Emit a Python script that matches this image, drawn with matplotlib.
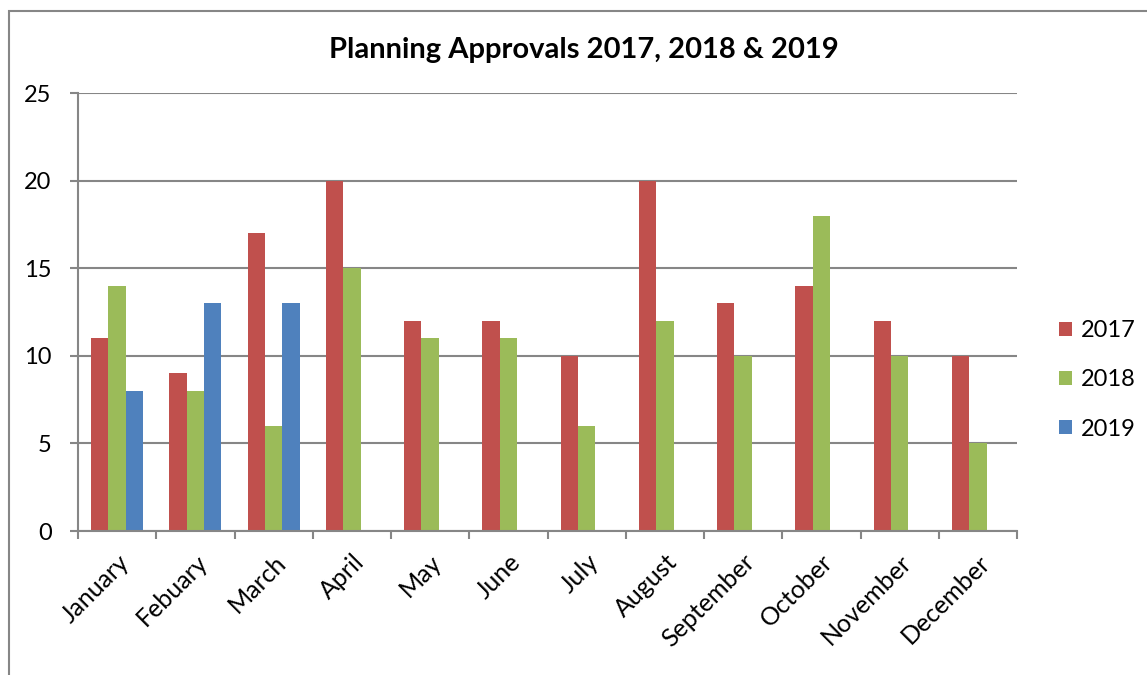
import matplotlib
matplotlib.use("Agg")
import matplotlib.pyplot as plt
import numpy as np
from matplotlib.patches import Rectangle

months = ["January", "Febuary", "March", "April", "May", "June", "July",
          "August", "September", "October", "November", "December"]
s2017 = [11, 9, 17, 20, 12, 12, 10, 20, 13, 14, 12, 10]
s2018 = [14, 8, 6, 15, 11, 11, 6, 12, 10, 18, 10, 5]
s2019 = [8, 13, 13, None, None, None, None, None, None, None, None, None]
series = [("2017", s2017, "#C0504D"), ("2018", s2018, "#9BBB59"), ("2019", s2019, "#4F81BD")]
yticks = [0, 5, 10, 15, 20, 25]

FONT = ["Lato", "DejaVu Sans"]
plt.rcParams['font.family'] = FONT

fig = plt.figure(figsize=(11.47, 6.75), dpi=100)
fig.patches.append(Rectangle((9/1147, -0.1), 1.2, 1 - 11/675 + 0.1, transform=fig.transFigure,
                             fill=False, edgecolor="#868686", linewidth=1.5))
ax = fig.add_axes([78/1147, 1 - 531/675, (1017 - 78)/1147, (531 - 93)/675])

x = np.arange(len(months))
bw = 1 / 4.5
for i, (name, vals, col) in enumerate(series):
    xs = [xi for xi, v in zip(x, vals) if v is not None]
    vs = [v for v in vals if v is not None]
    ax.bar(np.array(xs) + (i - 1) * bw, vs, width=bw, color=col, label=name)

ax.set_xlim(-0.5, len(months) - 0.5)
ax.set_ylim(0, 25)
ax.set_yticks(yticks)
ax.set_yticklabels([str(t) for t in yticks], fontsize=17)
ax.yaxis.grid(True, color="#868686", linewidth=1.5)
ax.set_axisbelow(True)
for sp in ["top", "right"]:
    ax.spines[sp].set_visible(False)
for sp in ["left", "bottom"]:
    ax.spines[sp].set_color("#868686")
    ax.spines[sp].set_linewidth(1.5)
ax.tick_params(axis="y", length=6, width=1.5, color="#868686", pad=13)
ax.set_xticks(np.arange(-0.5, len(months), 1))
ax.set_xticklabels([])
ax.tick_params(axis="x", length=6, width=1.5, color="#868686")
ax.set_xticks(x, minor=True)
ax.set_xticklabels(months, minor=True, rotation=45, ha="right", rotation_mode="anchor", fontsize=18)
ax.tick_params(axis="x", which="minor", length=0, pad=14)

fig.text(584/1147, 1 - 50/675, "Planning Approvals 2017, 2018 & 2019", ha="center", va="center",
         fontsize=21, fontweight="bold")

ax.legend(loc="center left", bbox_to_anchor=(1.022, 0.345), frameon=False, fontsize=17,
          handlelength=0.55, handleheight=0.55, handletextpad=0.4, labelspacing=1.2)

fig.savefig("out.png", dpi=100)
